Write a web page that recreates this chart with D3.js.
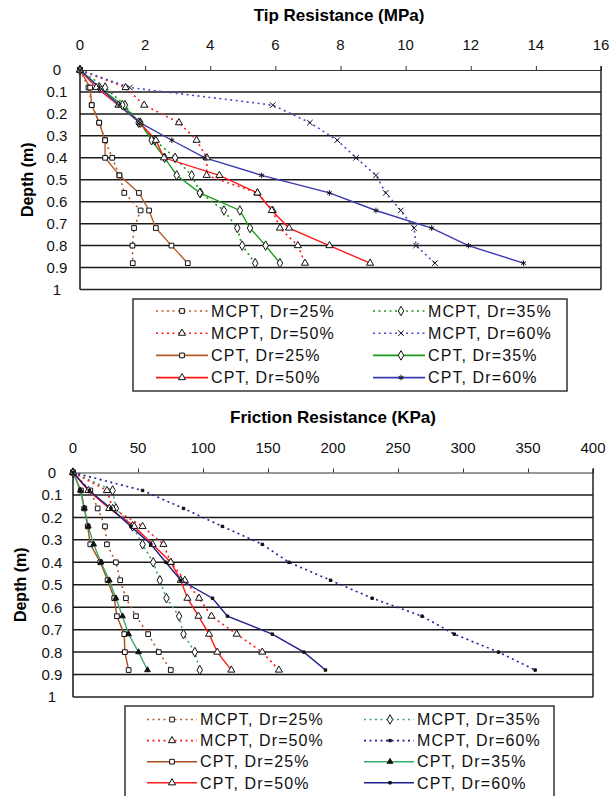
<!DOCTYPE html>
<html>
<head>
<meta charset="utf-8">
<script src="https://cdn.jsdelivr.net/npm/d3@7"></script>
<style>
  html, body { margin: 0; padding: 0; background: #fff; }
  svg { display: block; font-family: "Liberation Sans", Arial, sans-serif; }
</style>
</head>
<body>
<svg id="chart" width="609" height="796"></svg>
<script>
// Depth of each reading (m)
const depth = [0, 0.08, 0.16, 0.24, 0.32, 0.40, 0.48, 0.56, 0.64, 0.72, 0.80, 0.88];
const depthTicks = [0, 0.1, 0.2, 0.3, 0.4, 0.5, 0.6, 0.7, 0.8, 0.9, 1];

// Tip resistance (MPa)
const tipMcpt25 = [0, 0.26, 0.36, 0.59, 0.77, 0.99, 1.21, 1.36, 1.86, 1.66, 1.61, 1.62];
const tipMcpt35 = [0, 0.77, 1.38, 1.80, 2.30, 2.92, 3.43, 3.70, 4.42, 4.83, 4.98, 5.38];
const tipMcpt50 = [0, 1.40, 1.97, 3.04, 3.58, 3.90, 3.89, 5.45, 5.92, 6.14, 6.69, 6.91];
const tipMcpt60 = [0, 1.53, 5.92, 7.06, 7.90, 8.48, 9.09, 9.39, 9.85, 10.26, 10.32, 10.90];
const tipCpt25  = [0, 0.31, 0.36, 0.59, 0.77, 0.77, 1.21, 1.81, 2.12, 2.33, 2.81, 3.31];
const tipCpt35  = [0, 0.60, 1.30, 1.85, 2.20, 2.60, 2.97, 3.68, 4.91, 5.22, 5.70, 6.14];
const tipCpt50  = [0, 0.50, 1.18, 1.84, 2.33, 2.58, 4.28, 5.45, 5.89, 6.42, 7.66, 8.91];
const tipCpt60  = [0, 0.60, 1.20, 1.84, 2.82, 3.84, 5.58, 7.66, 9.09, 10.80, 11.93, 13.62];
const tipTicks  = [0, 2, 4, 6, 8, 10, 12, 14, 16];

// Friction resistance (KPa)
const fricMcpt25 = [0, 13.3, 19.0, 24.6, 26.1, 33.0, 36.3, 40.7, 48.4, 57.8, 66.0, 75.2];
const fricMcpt35 = [0, 30.5, 33.0, 45.8, 53.5, 61.7, 66.8, 71.9, 81.6, 85.0, 93.7, 97.5];
const fricMcpt50 = [0, 26.1, 30.5, 53.5, 69.6, 75.2, 86.0, 97.0, 106.5, 125.9, 145.6, 158.4];
const fricMcpt60 = [0, 53.5, 85.0, 114.9, 145.6, 166.1, 198.1, 230.1, 268.5, 293.3, 327.3, 355.5];
const fricCpt25  = [0, 6.1, 8.7, 11.3, 13.3, 21.0, 26.6, 31.7, 33.8, 39.4, 39.9, 42.8];
const fricCpt35  = [0, 5.6, 8.7, 11.8, 15.9, 21.5, 27.9, 33.0, 38.1, 42.8, 50.4, 57.3];
const fricCpt50  = [0, 11.8, 27.9, 47.1, 61.2, 75.2, 82.9, 88.0, 96.5, 104.7, 111.0, 121.8];
const fricCpt60  = [0, 12.5, 29.2, 44.5, 59.9, 71.4, 82.9, 107.3, 118.8, 153.3, 177.6, 194.2];
const fricTicks  = [0, 50, 100, 150, 200, 250, 300, 350, 400];

// Legend labels, in legend order (two columns, read row by row)
const seriesNames = [
  "MCPT, Dr=25%", "MCPT, Dr=35%",
  "MCPT, Dr=50%", "MCPT, Dr=60%",
  "CPT, Dr=25%",  "CPT, Dr=35%",
  "CPT, Dr=50%",  "CPT, Dr=60%"
];

const svg = d3.select("#chart");

function markerPath(kind) {
  const map = {
    square: [d3.symbolSquare, 22],
    triangle: [d3.symbolTriangle, 22],
    diamond: [d3.symbolDiamond, 26],
    times: [d3.symbolTimes, 22],
    asterisk: [d3.symbolAsterisk, 22],
    tri: [d3.symbolTriangle, 14],
    dot: [d3.symbolSquare, 6]
  };
  const m = map[kind];
  return d3.symbol().type(m[0]).size(m[1])();
}

function markerFill(kind) {
  if (kind === "times" || kind === "asterisk") return "none";
  if (kind === "dot" || kind === "tri") return "#111";
  return "#fff";
}

function drawPanel(p) {
  const x = d3.scaleLinear().domain([0, p.xMax]).range([p.left, p.right]);
  const y = d3.scaleLinear().domain([0, 1]).range([p.top, p.bottom]);
  const g = svg.append("g");

  // title
  g.append("text")
    .attr("x", p.titleX).attr("y", p.titleY)
    .attr("text-anchor", "middle")
    .attr("font-size", 17).attr("font-weight", "bold")
    .text(p.title);

  // horizontal grid lines
  g.selectAll("line.grid").data(depthTicks.slice(1, -1)).enter()
    .append("line")
    .attr("x1", p.left).attr("x2", p.right)
    .attr("y1", d => y(d)).attr("y2", d => y(d))
    .attr("stroke", "#1a1a1a").attr("stroke-width", 1.5);

  // top value axis
  const topAxis = d3.axisTop(x).tickValues(p.xTicks).tickSize(4).tickFormat(d3.format("d"));
  const ta = g.append("g").attr("transform", `translate(0,${p.top})`).call(topAxis);
  ta.select(".domain").attr("stroke", "#333").attr("stroke-width", 1);
  ta.selectAll(".tick line").attr("stroke", "#333");
  ta.selectAll(".tick text").remove();
  g.selectAll("text.xt").data(p.xTicks).enter().append("text")
    .attr("x", d => x(d)).attr("y", p.tickLabelY)
    .attr("text-anchor", "middle").attr("font-size", 15).attr("fill", "#111")
    .text(d => d);

  // depth axis labels
  g.selectAll("text.yt").data(depthTicks).enter().append("text")
    .attr("x", p.yLabelX).attr("y", d => y(d))
    .attr("dy", "0.36em")
    .attr("text-anchor", "middle").attr("font-size", 15).attr("fill", "#111")
    .text(d => d3.format("")(d));

  g.append("text")
    .attr("transform", `translate(${p.depthLabelX},${(p.top + p.bottom) / 2}) rotate(-90)`)
    .attr("text-anchor", "middle").attr("dy", "0.35em")
    .attr("font-size", 16).attr("font-weight", "bold")
    .text("Depth (m)");

  // frame: left axis, right and bottom border
  g.append("line").attr("x1", p.left).attr("x2", p.left).attr("y1", p.top).attr("y2", p.bottom)
    .attr("stroke", "#111").attr("stroke-width", 1.5);
  g.append("line").attr("x1", p.right).attr("x2", p.right).attr("y1", p.top - 4).attr("y2", p.bottom)
    .attr("stroke", "#222").attr("stroke-width", 1.5);
  g.append("line").attr("x1", p.left).attr("x2", p.right).attr("y1", p.bottom).attr("y2", p.bottom)
    .attr("stroke", "#222").attr("stroke-width", 1.5);

  // series lines
  const line = d3.line().x(d => x(d[1])).y(d => y(d[0]));
  p.series.forEach(s => {
    const pts = depth.map((d, i) => [d, s.values[i]]);
    g.append("path").datum(pts)
      .attr("d", line)
      .attr("fill", "none")
      .attr("stroke", s.color)
      .attr("stroke-width", s.dashed ? 1.6 : 1.4)
      .attr("stroke-dasharray", s.dashed ? "2,3.5" : null);
  });
  // markers on top
  p.series.forEach(s => {
    const pts = depth.map((d, i) => [d, s.values[i]]);
    g.selectAll(null).data(pts).enter().append("path")
      .attr("transform", d => `translate(${x(d[1])},${y(d[0])})`)
      .attr("d", markerPath(s.marker))
      .attr("fill", markerFill(s.marker))
      .attr("stroke", "#111").attr("stroke-width", 1);
  });

  // legend
  const L = p.legend;
  g.append("rect")
    .attr("x", L.x).attr("y", L.y).attr("width", L.w).attr("height", L.h)
    .attr("fill", "#fff").attr("stroke", "#333").attr("stroke-width", 1.5);
  p.series.forEach((s, i) => {
    const col = i % 2, row = Math.floor(i / 2);
    const ly = L.rowY + row * L.rowStep;
    const x0 = L.colX[col], x1 = x0 + L.lineLen;
    g.append("line").attr("x1", x0).attr("x2", x1).attr("y1", ly).attr("y2", ly)
      .attr("stroke", s.color).attr("stroke-width", 1.6)
      .attr("stroke-dasharray", s.dashed ? "2,3.5" : null);
    g.append("path")
      .attr("transform", `translate(${x0 + L.markerOff[col]},${ly})`)
      .attr("d", markerPath(s.marker))
      .attr("fill", markerFill(s.marker))
      .attr("stroke", "#111").attr("stroke-width", 1);
    g.append("text")
      .attr("x", x1 + 3).attr("y", ly).attr("dy", "0.36em")
      .attr("font-size", 16).attr("letter-spacing", 1.1).attr("fill", "#111")
      .text(seriesNames[i]);
  });
}

// legend order: MCPT25, MCPT35, MCPT50, MCPT60, CPT25, CPT35, CPT50, CPT60
drawPanel({
  left: 80, right: 601, top: 70, bottom: 289.5,
  xMax: 16, xTicks: tipTicks,
  title: "Tip Resistance (MPa)", titleX: 339, titleY: 21,
  tickLabelY: 49.5, yLabelX: 57, depthLabelX: 27,
  series: [
    { values: tipMcpt25, color: "#b85c2a", dashed: true, marker: "square" },
    { values: tipMcpt35, color: "#1a9a1a", dashed: true, marker: "diamond" },
    { values: tipMcpt50, color: "#ff1a1a", dashed: true, marker: "triangle" },
    { values: tipMcpt60, color: "#4a4ac8", dashed: true, marker: "times" },
    { values: tipCpt25,  color: "#b85c2a", dashed: false, marker: "square" },
    { values: tipCpt35,  color: "#1a9a1a", dashed: false, marker: "diamond" },
    { values: tipCpt50,  color: "#ff1a1a", dashed: false, marker: "triangle" },
    { values: tipCpt60,  color: "#3a3ab0", dashed: false, marker: "asterisk" }
  ],
  legend: { x: 133, y: 299, w: 434, h: 92, rowY: 311, rowStep: 22.2,
            colX: [156, 373], lineLen: 52, markerOff: [26, 28] }
});

drawPanel({
  left: 73, right: 593, top: 472.5, bottom: 697,
  xMax: 400, xTicks: fricTicks,
  title: "Friction Resistance (KPa)", titleX: 333, titleY: 423,
  tickLabelY: 453, yLabelX: 52, depthLabelX: 20,
  series: [
    { values: fricMcpt25, color: "#b85c2a", dashed: true, marker: "square" },
    { values: fricMcpt35, color: "#3caa6e", dashed: true, marker: "diamond" },
    { values: fricMcpt50, color: "#ff1a1a", dashed: true, marker: "triangle" },
    { values: fricMcpt60, color: "#1e1e96", dashed: true, marker: "dot" },
    { values: fricCpt25,  color: "#a8501e", dashed: false, marker: "square" },
    { values: fricCpt35,  color: "#3caa6e", dashed: false, marker: "tri" },
    { values: fricCpt50,  color: "#ff1a1a", dashed: false, marker: "triangle" },
    { values: fricCpt60,  color: "#1e1e8c", dashed: false, marker: "dot" }
  ],
  legend: { x: 125, y: 706, w: 429, h: 96, rowY: 719.5, rowStep: 21.1,
            colX: [147, 364], lineLen: 50, markerOff: [25, 26] }
});
</script>
</body>
</html>
